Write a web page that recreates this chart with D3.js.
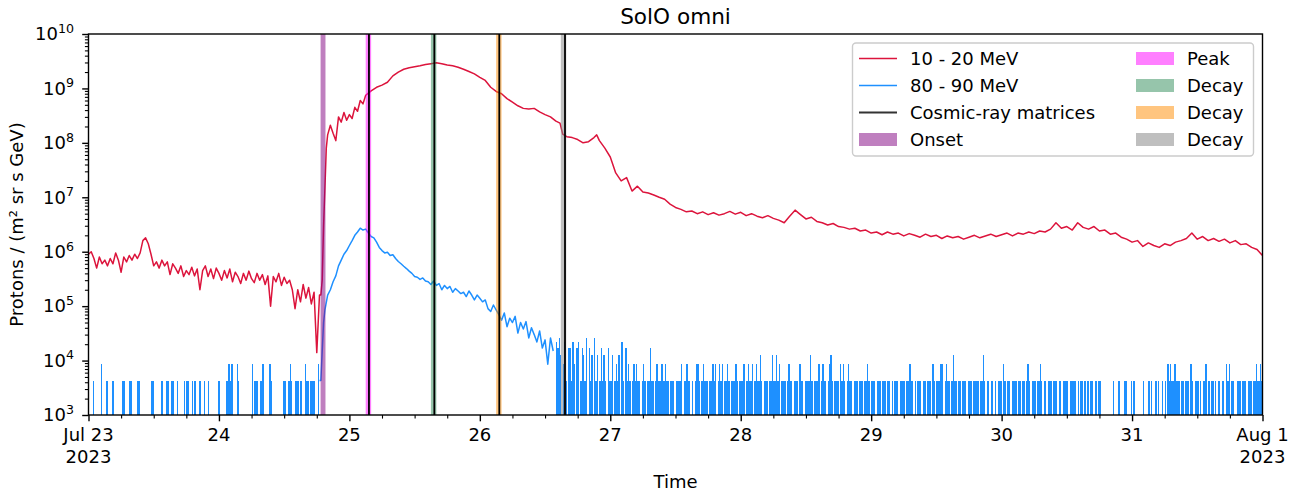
<!DOCTYPE html>
<html>
<head>
<meta charset="utf-8">
<script src="https://cdn.jsdelivr.net/npm/d3@7"></script>
<style>
  body { margin: 0; background: #fff; }
  svg text { font-family: "DejaVu Sans", sans-serif; fill: #000; }
</style>
</head>
<body>
<div id="chart"></div>
<script>
// ---- data (hours since 2023-07-23 00:00 UTC) ----
const redPreStepH = 0.5;   // 10-20 MeV, half-hourly before the onset
const red10to20Pre = [
  9.0e5, 1.0e6, 7.5e5, 5.0e5, 8.0e5, 6.0e5, 7.0e5, 5.5e5, 7.5e5, 6.0e5,
  9.5e5, 7.0e5, 4.2e5, 8.0e5, 6.5e5, 8.5e5, 7.0e5, 9.0e5, 7.5e5, 9.5e5,
  1.6e6, 1.8e6, 1.4e6, 9.0e5, 5.5e5, 6.5e5, 5.0e5, 7.0e5, 5.5e5, 6.5e5,
  3.8e5, 6.0e5, 5.0e5, 4.0e5, 5.5e5, 3.5e5, 4.5e5, 3.8e5, 5.2e5, 3.6e5,
  4.8e5, 2.0e5, 4.5e5, 5.5e5, 3.5e5, 4.8e5, 3.2e5, 5.0e5, 4.0e5, 3.0e5,
  4.5e5, 3.3e5, 4.8e5, 2.8e5, 4.2e5, 3.5e5, 2.6e5, 4.0e5, 3.0e5, 4.4e5,
  3.2e5, 2.7e5, 4.0e5, 3.0e5, 3.8e5, 2.5e5, 3.6e5, 1.0e5, 3.5e5, 2.8e5,
  4.0e5, 2.4e5, 3.4e5, 2.6e5, 3.0e5, 2.0e5, 9.0e4, 2.0e5, 1.2e5, 2.5e5,
  1.4e5, 2.2e5, 1.1e5, 1.8e5, 1.4e4, 1.6e5
];
const red10to20Event = [
  [42.75, 1.6e5], [43.0, 3.0e5], [43.25, 3.0e6], [43.5, 1.5e7], [43.75, 8.0e7],
  [44.0, 1.4e8], [44.5, 2.1e8], [45.0, 1.5e8], [45.5, 1.1e8], [46.0, 3.0e8],
  [46.5, 2.4e8], [47.0, 3.6e8], [47.5, 2.6e8], [48.0, 3.3e8], [48.5, 2.8e8],
  [49.0, 4.5e8], [49.5, 3.8e8], [50.0, 6.0e8], [50.5, 5.2e8], [51.0, 7.5e8],
  [51.5, 8.2e8], [52, 9.0e8], [53, 1.05e9], [54, 1.15e9], [55, 1.3e9],
  [56, 1.7e9], [57, 2.0e9], [58, 2.25e9], [59, 2.4e9], [60, 2.5e9],
  [61, 2.6e9], [62, 2.75e9], [63, 2.85e9], [64, 2.95e9], [65, 2.85e9],
  [66, 2.7e9], [67, 2.6e9], [68, 2.45e9], [69, 2.25e9], [70, 2.05e9],
  [71, 1.85e9], [72, 1.6e9], [73, 1.4e9], [74, 1.05e9], [75, 8.8e8],
  [76, 8.0e8], [77, 6.5e8], [78, 5.6e8], [79, 4.8e8], [80, 4.3e8],
  [81, 4.2e8], [82, 4.3e8], [83, 3.7e8], [84, 3.3e8], [85, 3.0e8],
  [86, 2.5e8], [86.75, 2.3e8], [87.25, 1.45e8], [88, 1.3e8], [89, 1.25e8],
  [90, 1.15e8], [91, 1.0e8], [92, 1.05e8], [93, 1.25e8], [93.5, 1.4e8],
  [94, 1.1e8], [95, 8.0e7], [96, 5.5e7], [97, 2.8e7], [98, 2.0e7],
  [99, 2.3e7], [100, 1.3e7], [101, 1.6e7], [102, 1.25e7], [103, 1.2e7],
  [104, 1.1e7], [105, 1.0e7], [106, 9.2e6], [107, 7.5e6], [108, 6.5e6],
  [109, 6.0e6], [110, 5.4e6], [111, 5.6e6], [112, 5.0e6], [113, 5.4e6],
  [114, 4.8e6], [115, 5.2e6], [116, 4.7e6], [117, 5.0e6], [118, 5.5e6],
  [119, 4.9e6], [120, 5.3e6], [121, 4.6e6], [122, 5.0e6], [123, 4.5e6],
  [124, 4.2e6], [125, 4.6e6], [126, 4.1e6], [127, 3.8e6], [128, 3.4e6],
  [129, 4.5e6], [130, 5.8e6], [131, 4.8e6], [132, 4.0e6], [133, 4.3e6],
  [134, 3.6e6], [135, 3.4e6], [136, 3.1e6], [137, 3.3e6], [138, 2.9e6],
  [139, 2.8e6], [140, 2.6e6], [141, 2.7e6], [142, 2.4e6], [143, 2.5e6],
  [144, 2.2e6], [145, 2.3e6], [146, 2.05e6], [147, 2.3e6], [148, 2.1e6],
  [149, 2.2e6], [150, 1.95e6], [151, 2.15e6], [152, 2.0e6], [153, 1.85e6],
  [154, 2.1e6], [155, 1.9e6], [156, 2.0e6], [157, 1.75e6], [158, 1.95e6],
  [159, 1.8e6], [160, 1.9e6], [161, 1.7e6], [162, 1.85e6], [163, 2.0e6],
  [164, 1.8e6], [165, 1.95e6], [166, 2.1e6], [167, 1.9e6], [168, 2.05e6],
  [169, 2.2e6], [170, 1.95e6], [171, 2.2e6], [172, 2.1e6], [173, 2.3e6],
  [174, 2.15e6], [175, 2.4e6], [176, 2.3e6], [177, 2.6e6], [178, 3.4e6],
  [179, 2.7e6], [180, 2.9e6], [181, 2.5e6], [182, 3.4e6], [183, 2.8e6],
  [184, 2.6e6], [185, 2.9e6], [186, 2.4e6], [187, 2.5e6], [188, 2.1e6],
  [189, 2.2e6], [190, 1.85e6], [191, 1.7e6], [192, 1.5e6], [193, 1.6e6],
  [194, 1.25e6], [195, 1.45e6], [196, 1.3e6], [197, 1.2e6], [198, 1.4e6],
  [199, 1.3e6], [200, 1.5e6], [201, 1.6e6], [202, 1.75e6], [203, 2.2e6],
  [204, 1.7e6], [205, 1.9e6], [206, 1.6e6], [207, 1.75e6], [208, 1.55e6],
  [209, 1.7e6], [210, 1.45e6], [211, 1.6e6], [212, 1.35e6], [213, 1.4e6],
  [214, 1.2e6], [215, 1.1e6], [216, 8.5e5]
];

// 80-90 MeV: quiet periods are single counts, one digit per 15 min (count x flux of one count)
const countStepH = 0.25;
const oneCountFlux = 4300;
const blue80to90PreCounts =
  "0001000002 0001000110 0000011000 1100001100 0000001100 0001100110 0110010000 " +
  "1011001010 0110010010 0000011000 0112120002 1000000000 2011101120 0002100000 " +
  "0001100121 0011101002 1101111002 1";
const blue80to90Event = [
  [42.75, 4300], [43.0, 1.5e4], [43.25, 5.0e4], [43.5, 8.5e4], [44, 1.6e5],
  [44.5, 2.0e5], [45, 2.8e5], [45.5, 3.6e5], [46, 5.5e5], [46.5, 7.0e5],
  [47, 9.0e5], [47.5, 1.05e6], [48, 1.3e6], [48.5, 1.6e6], [49, 2.0e6],
  [49.5, 2.3e6], [50, 2.7e6], [50.5, 2.5e6], [51, 2.6e6], [51.5, 2.2e6],
  [52, 1.9e6], [52.5, 1.8e6], [53, 1.5e6], [53.5, 1.2e6], [54, 1.05e6],
  [54.5, 9.5e5], [55, 9.8e5], [55.5, 8.5e5], [56, 8.8e5], [56.5, 7.5e5],
  [57, 6.6e5], [57.5, 6.0e5], [58, 5.4e5], [58.5, 4.9e5], [59, 4.4e5],
  [59.5, 4.0e5], [60, 3.5e5], [60.5, 3.4e5], [61, 3.1e5], [61.5, 3.3e5],
  [62, 2.9e5], [62.5, 2.8e5], [63, 2.5e5], [63.5, 2.9e5], [64, 2.4e5],
  [64.5, 2.6e5], [65, 2.0e5], [65.5, 2.4e5], [66, 2.1e5], [66.5, 2.3e5],
  [67, 1.8e5], [67.5, 2.1e5], [68, 1.9e5], [68.5, 1.7e5], [69, 1.8e5],
  [69.5, 1.5e5], [70, 1.9e5], [70.5, 1.6e5], [71, 1.3e5], [71.5, 1.6e5],
  [72, 1.4e5], [72.5, 1.2e5], [73, 1.3e5], [73.5, 9.0e4], [74, 8.0e4],
  [74.5, 1.05e5], [75, 8.5e4], [75.5, 7.0e4], [76, 5.5e4], [76.5, 7.5e4],
  [77, 4.2e4], [77.5, 6.0e4], [78, 5.0e4], [78.5, 6.5e4], [79, 3.2e4],
  [79.5, 5.0e4], [80, 3.8e4], [80.5, 5.2e4], [81, 2.6e4], [81.5, 4.0e4],
  [82, 3.0e4], [82.5, 2.2e4], [83, 3.5e4], [83.5, 1.7e4], [84, 2.4e4],
  [84.5, 8.6e3], [85, 2.6e4], [85.5, 1.5e4]
];
const bluePostStartH = 86;
const blue80to90PostCounts =
  "5463025104 4152045014 3160413061 3014131041 1301213051 0412101212 1101210114 " +
  "1101211221 2110111011 1120112110 1012210121 1101121201 2120112101 1121011120 " +
  "1211201211 3101110113 1131201110 1211011102 1101111310 1112012110 1231011102 " +
  "1210121101 1101110112 1011101110 1110110101 1101111011 2110101110 1101110210 " +
  "1112201211 0131101101 1101110111 1011310110 1101011102 1011001110 1101101210 " +
  "1110112101 1011101110 1101111011 1110101101 0101100101 1000000000 1000100011 " +
  "0001010000 0010001010 0101001010 2121121110 1101110210 1110101120 1011010110 " +
  "1102120110 0111011101 1101121121 1";

// shaded intervals and cosmic-ray matrix times (hours)
const spanLabels = ["Onset", "Peak", "Decay", "Decay", "Decay"];
const spanStartH = [42.7, 51.0, 63.0, 75.0, 86.9];
const spanEndH   = [43.6, 52.0, 64.0, 76.0, 87.9];
const matrixH    = [51.6, 63.63, 75.58, 87.67];

const yTickExponents = [3, 4, 5, 6, 7, 8, 9, 10];
const xTickLabels = ["Jul 23\n2023", "24", "25", "26", "27", "28", "29", "30", "31", "Aug 1\n2023"];

// ---- styles ----
const spanColors = ["#800080", "#ff00ff", "#2e8b57", "#ff8c00", "#808080"];
const redColor = "#dc143c", blueColor = "#1e90ff";

// ---- setup ----
const W = 1305, H = 495;
const L = 88.5, R = 1262.5, T = 34, B = 415;
const T0 = Date.UTC(2023, 6, 23);
const toDate = h => new Date(T0 + h * 3600e3);

const x = d3.scaleUtc().domain([toDate(0), toDate(216)]).range([L, R]);
const y = d3.scaleLog().domain([1e3, 1e10]).range([B, T]);

const svg = d3.select("#chart").append("svg")
  .attr("width", W).attr("height", H).style("display", "block");

svg.append("clipPath").attr("id", "clip")
  .append("rect").attr("x", L).attr("y", T).attr("width", R - L).attr("height", B - T);

// build series
const redSeries = red10to20Pre.map((v, i) => ({ t: toDate(i * redPreStepH), v }))
  .concat(red10to20Event.map(([h, v]) => ({ t: toDate(h), v })));

const digits = s => s.replace(/\s/g, "").split("").map(Number);
const blueSeries = [];
digits(blue80to90PreCounts).forEach((c, i) =>
  blueSeries.push({ t: toDate(i * countStepH), v: c * oneCountFlux, bg: true }));
blue80to90Event.forEach(([h, v]) => blueSeries.push({ t: toDate(h), v, bg: false }));
digits(blue80to90PostCounts).forEach((c, i) =>
  blueSeries.push({ t: toDate(bluePostStartH + i * countStepH), v: c * oneCountFlux, bg: true }));

const yv = d => d.v > 0 ? y(d.v) : B + 6;

const plot = svg.append("g").attr("clip-path", "url(#clip)");

plot.append("path")
  .datum(redSeries)
  .attr("fill", "none")
  .attr("stroke", redColor)
  .attr("stroke-width", 1.5)
  .attr("stroke-linejoin", "round")
  .attr("d", d3.line().x(d => x(d.t)).y(yv));

// single-count background drawn as narrow steps, event profile as a line
plot.append("path")
  .datum(blueSeries)
  .attr("fill", blueColor)
  .attr("shape-rendering", "crispEdges")
  .attr("d", d3.area().defined(d => d.bg).curve(d3.curveStepAfter)
    .x(d => x(d.t)).y0(B).y1(yv));

const blueEvent = blueSeries.filter((d, i, a) =>
  !d.bg || (a[i + 1] && !a[i + 1].bg));
plot.append("path")
  .datum(blueEvent)
  .attr("fill", "none")
  .attr("stroke", blueColor)
  .attr("stroke-width", 1.5)
  .attr("stroke-linejoin", "round")
  .attr("d", d3.line().x(d => x(d.t)).y(yv));

// shaded spans
plot.selectAll(".span")
  .data(spanStartH)
  .enter().append("rect")
  .attr("x", (d, i) => x(toDate(d)))
  .attr("width", (d, i) => x(toDate(spanEndH[i])) - x(toDate(d)))
  .attr("y", T).attr("height", B - T)
  .attr("fill", (d, i) => spanColors[i])
  .attr("fill-opacity", 0.5);

// cosmic-ray matrix lines
plot.selectAll(".matrix")
  .data(matrixH)
  .enter().append("line")
  .attr("x1", d => x(toDate(d))).attr("x2", d => x(toDate(d)))
  .attr("y1", T).attr("y2", B)
  .attr("stroke", "#000").attr("stroke-width", 1.8);

// ---- axes ----
const dayTicks = xTickLabels.map((_, i) => toDate(i * 24));
const minorX = d3.utcHour.every(6).range(toDate(0), toDate(216))
  .filter(d => d.getUTCHours() !== 0);

const xAxisG = svg.append("g").attr("transform", `translate(0,${B})`)
  .call(d3.axisBottom(x).tickValues(dayTicks).tickSize(6.3).tickFormat(""));
svg.append("g").attr("transform", `translate(0,${B})`)
  .call(d3.axisBottom(x).tickValues(minorX).tickSize(3.6).tickFormat(""))
  .call(g => g.selectAll("line").attr("stroke-width", 1.1));
xAxisG.selectAll("line").attr("stroke-width", 1.4);
svg.selectAll(".domain").remove();

xTickLabels.forEach((lab, i) => {
  const t = svg.append("text")
    .attr("x", x(dayTicks[i])).attr("y", 441)
    .attr("text-anchor", "middle").attr("font-size", 18);
  lab.split("\n").forEach((ln, j) =>
    t.append("tspan").attr("x", x(dayTicks[i])).attr("dy", j ? 21.6 : 0).text(ln));
});

const majorY = yTickExponents.map(e => Math.pow(10, e));
const minorY = [];
yTickExponents.slice(0, -1).forEach(e => {
  for (let m = 2; m <= 9; m++) minorY.push(m * Math.pow(10, e));
});

const yAxisG = svg.append("g").attr("transform", `translate(${L},0)`)
  .call(d3.axisLeft(y).tickValues(majorY).tickSize(6.3).tickPadding(8.2).tickFormat(""));
yAxisG.selectAll("line").attr("stroke-width", 1.4);
yAxisG.selectAll(".tick text").each(function (d) {
  const t = d3.select(this).attr("font-size", 18).attr("fill", "#000");
  t.append("tspan").text("10");
  t.append("tspan").attr("dy", -7.4).attr("font-size", 12.6).text(Math.round(Math.log10(d)));
});
svg.append("g").attr("transform", `translate(${L},0)`)
  .call(d3.axisLeft(y).tickValues(minorY).tickSize(3.6).tickFormat(""))
  .call(g => g.selectAll("line").attr("stroke-width", 1.1));
svg.selectAll(".domain").remove();

// frame
svg.append("rect")
  .attr("x", L).attr("y", T).attr("width", R - L).attr("height", B - T)
  .attr("fill", "none").attr("stroke", "#000").attr("stroke-width", 1.4);

// labels
svg.append("text").attr("x", (L + R) / 2).attr("y", 23.5)
  .attr("text-anchor", "middle").attr("font-size", 21.6).text("SolO omni");
svg.append("text").attr("x", (L + R) / 2).attr("y", 488)
  .attr("text-anchor", "middle").attr("font-size", 18).text("Time");
svg.append("text")
  .attr("transform", `translate(22.5,${(T + B) / 2}) rotate(-90)`)
  .attr("text-anchor", "middle").attr("font-size", 18)
  .text("Protons / (m² sr s GeV)");

// ---- legend ----
const legend = svg.append("g");
legend.append("rect")
  .attr("x", 852.5).attr("y", 43).attr("width", 401).attr("height", 113)
  .attr("rx", 3.5).attr("fill", "#fff").attr("fill-opacity", 0.8)
  .attr("stroke", "#cccccc").attr("stroke-width", 1.4);

const legendLines = [
  { label: "10 - 20 MeV", color: redColor },
  { label: "80 - 90 MeV", color: blueColor },
  { label: "Cosmic-ray matrices", color: "#333" }
];
const rowY = i => 58.5 + i * 27;

legendLines.forEach((d, i) => {
  legend.append("line").attr("x1", 859).attr("x2", 897)
    .attr("y1", rowY(i)).attr("y2", rowY(i))
    .attr("stroke", d.color).attr("stroke-width", i === 2 ? 1.8 : 1.6);
  legend.append("text").attr("x", 910).attr("y", rowY(i) + 6.5)
    .attr("font-size", 18).text(d.label);
});

spanLabels.forEach((lab, i) => {
  const col = i === 0 ? 0 : 1;
  const row = i === 0 ? 3 : i - 1;
  const hx = col ? 1136 : 859;
  legend.append("rect").attr("x", hx).attr("y", rowY(row) - 6.5)
    .attr("width", 38).attr("height", 13)
    .attr("fill", spanColors[i]).attr("fill-opacity", 0.5);
  legend.append("text").attr("x", hx + 51).attr("y", rowY(row) + 6.5)
    .attr("font-size", 18).text(lab);
});
</script>
</body>
</html>
